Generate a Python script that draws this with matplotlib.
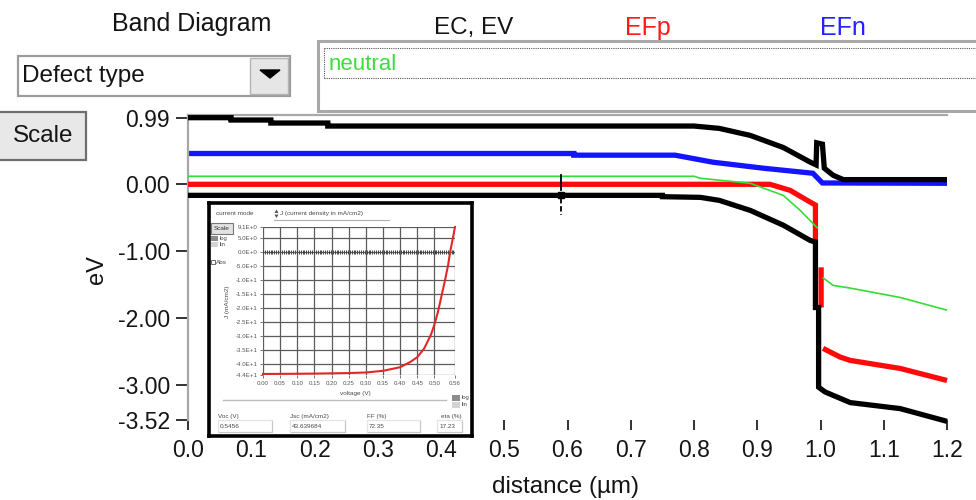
import numpy as np
import matplotlib
matplotlib.use("Agg")
import matplotlib.pyplot as plt
from matplotlib.patches import Rectangle, Polygon

plt.rcParams['font.family'] = ['Liberation Sans', 'DejaVu Sans']
plt.rcParams['axes.unicode_minus'] = False

# ---------------- data ----------------
# Conduction band EC
ec_x = [0.0, 0.068, 0.068, 0.131, 0.131, 0.221, 0.221, 0.80, 0.84, 0.889, 0.941, 0.984, 0.993, 0.994, 1.003, 1.006, 1.02, 1.036, 1.2]
ec_y = [0.995, 0.995, 0.96, 0.96, 0.915, 0.915, 0.87, 0.87, 0.835, 0.73, 0.55, 0.33, 0.29, 0.62, 0.60, 0.24, 0.135, 0.07, 0.07]
# Valence band EV
ev_x = [0.0, 0.75, 0.75, 0.81, 0.84, 0.889, 0.941, 0.984, 0.992, 0.992, 0.997, 0.997, 1.007, 1.047, 1.126, 1.2]
ev_y = [-0.165, -0.165, -0.185, -0.195, -0.24, -0.39, -0.61, -0.84, -0.86, -1.84, -1.84, -3.03, -3.10, -3.26, -3.35, -3.54]
# Hole quasi-Fermi level EFp
efp_x = [0.0, 0.92, 0.952, 0.979, 0.992, 0.992, np.nan, 1.001, 1.001, np.nan, 1.004, 1.031, 1.047, 1.126, 1.2]
efp_y = [0.0, 0.0, -0.09, -0.24, -0.31, -0.84, np.nan, -1.24, -1.84, np.nan, -2.45, -2.58, -2.63, -2.75, -2.93]
# Electron quasi-Fermi level EFn
efn_x = [0.0, 0.61, 0.61, 0.77, 0.83, 0.91, 0.988, 1.003, 1.2]
efn_y = [0.46, 0.46, 0.435, 0.435, 0.33, 0.24, 0.165, 0.02, 0.015]
# neutral defect level
neu_x = [0.0, 0.80, 0.81, 0.889, 0.941, 0.968, 0.996, np.nan, 1.003, 1.02, 1.047, 1.126, 1.2]
neu_y = [0.12, 0.12, 0.09, 0.015, -0.165, -0.39, -0.66, np.nan, -1.39, -1.51, -1.55, -1.69, -1.88]
cursor_x = 0.59

x_ticks = [0.0, 0.1, 0.2, 0.3, 0.4, 0.5, 0.6, 0.7, 0.8, 0.9, 1.0, 1.1, 1.2]
x_tick_labels = ['0.0', '0.1', '0.2', '0.3', '0.4', '0.5', '0.6', '0.7', '0.8', '0.9', '1.0', '1.1', '1.2']
y_ticks = [0.99, 0.0, -1.0, -2.0, -3.0, -3.52]
y_tick_labels = ['0.99', '0.00', '-1.00', '-2.00', '-3.00', '-3.52']

# J-V inset
jv_v = [0.0, 0.05, 0.10, 0.15, 0.20, 0.25, 0.30, 0.35, 0.40, 0.43, 0.45, 0.47, 0.49, 0.50, 0.51, 0.52, 0.53, 0.54, 0.5456, 0.55, 0.56]
jv_j = [-43.64, -43.6, -43.55, -43.5, -43.4, -43.3, -43.1, -42.5, -41.2, -39.3, -37.6, -34.5, -29.5, -25.9, -21.5, -16.0, -10.5, -4.5, 0.0, 2.7, 9.1]
jv_xticks = [0.0, 0.05, 0.10, 0.15, 0.20, 0.25, 0.30, 0.35, 0.40, 0.45, 0.50, 0.56]
jv_xlabels = ['0.00', '0.05', '0.10', '0.15', '0.20', '0.25', '0.30', '0.35', '0.40', '0.45', '0.50', '0.56']
jv_yticks = [9.1, 5, 0, -5, -10, -15, -20, -25, -30, -35, -40, -44]
jv_ylabels = ['9.1E+0', '5.0E+0', '0.0E+0', '-5.0E+0', '-1.0E+1', '-1.5E+1', '-2.0E+1', '-2.5E+1',
              '-3.0E+1', '-3.5E+1', '-4.0E+1', '-4.4E+1']
pv_names = ['Voc (V)', 'Jsc (mA/cm2)', 'FF (%)', 'eta (%)']
pv_values = ['0.5456', '43.639684', '72.35', '17.23']

# ---------------- figure ----------------
W, H = 976, 500
def fx(px): return px / W
def fy(py): return 1 - py / H

fig = plt.figure(figsize=(9.76, 5.0), dpi=100)
fig.patch.set_facecolor('white')

ui = fig.add_axes([0, 0, 1, 1], zorder=0)
ui.set_xlim(0, W); ui.set_ylim(H, 0); ui.axis('off')

txt = '#141414'
ui.text(192, 24, 'Band Diagram', ha='center', va='center', fontsize=18, color=txt)
ui.text(474, 28, 'EC, EV', ha='center', va='center', fontsize=17.5, color=txt)
ui.text(648, 28, 'EFp', ha='center', va='center', fontsize=18, color='#ff1a1a')
ui.text(843, 28, 'EFn', ha='center', va='center', fontsize=18, color='#2323ff')

# combobox
ui.add_patch(Rectangle((18, 56), 272, 40, facecolor='white', edgecolor='#9c9c9c', lw=1.6))
ui.add_patch(Rectangle((250, 58), 38, 36, facecolor='#e6e6e6', edgecolor='#b4b4b4', lw=1.0))
ui.add_patch(Polygon([(260, 70), (280, 70), (270, 78)], closed=True, facecolor='black', edgecolor='black'))
ui.text(22, 76, 'Defect type', ha='left', va='center', fontsize=17.5, color=txt)

# scale button
ui.add_patch(Rectangle((-3, 112), 89, 48, facecolor='#e8e8e8', edgecolor='#6e6e6e', lw=1.6))
ui.text(43, 136, 'Scale', ha='center', va='center', fontsize=17.5, color=txt)

# legend panel
ui.add_patch(Rectangle((318, 41), 662, 70, facecolor='white', edgecolor='#a8a8a8', lw=2.2))
for yy in (48, 78):
    ui.plot([324, 976], [yy, yy], color='#555555', lw=0.8, ls=(0, (1, 1)))
ui.plot([324, 324], [48, 78], color='#555555', lw=0.8, ls=(0, (1, 1)))
ui.text(329, 64, 'neutral', ha='left', va='center', fontsize=16, color='#3ddc3d')

ui.text(97, 270, 'eV', ha='center', va='center', rotation=90, fontsize=17, color=txt)
ui.text(565, 487, 'distance (µm)', ha='center', va='center', fontsize=17.5, color=txt)

# ---------------- main band diagram ----------------
ax = fig.add_axes([fx(188), fy(420), (947 - 188) / W, (420 - 115) / H], zorder=1)
ax.set_facecolor('none')
ax.set_xlim(0, 1.2)
ax.set_ylim(-3.52, 1.035)
for s in ('right', 'bottom'):
    ax.spines[s].set_visible(False)
for s in ('left', 'top'):
    ax.spines[s].set_color('#a8a8a8')
    ax.spines[s].set_linewidth(1.6)

lw_thick = 3.8
kw = dict(solid_capstyle='butt', solid_joinstyle='miter', clip_on=False)
ax.plot(efn_x, efn_y, color='#1414ff', lw=lw_thick, zorder=2, **kw)
ax.plot(efp_x, efp_y, color='#ff0a0a', lw=lw_thick, zorder=3, **kw)
ax.plot(neu_x, neu_y, color='#33dd33', lw=1.2, zorder=4, **kw)
ax.plot(ec_x, ec_y, color='black', lw=lw_thick, zorder=5, **kw)
ax.plot(ev_x, ev_y, color='black', lw=lw_thick, zorder=5, **kw)

# cursor
ax.plot([cursor_x, cursor_x], [0.135, -0.08], color='black', lw=1.3, zorder=6)
ax.plot([cursor_x, cursor_x], [-0.2, -0.46], color='black', lw=1.3, ls=(0, (3, 1.5)), zorder=6)
ax.plot([cursor_x], [-0.165], marker='s', ms=5, color='black', zorder=6)

ax.set_xticks(x_ticks)
ax.set_xticklabels(x_tick_labels)
ax.set_yticks(y_ticks)
ax.set_yticklabels(y_tick_labels)
ax.tick_params(axis='x', direction='out', length=7, width=1.3, color='#222222', pad=7,
               labelsize=16.5, labelcolor=txt)
ax.tick_params(axis='y', direction='out', length=9, width=1.3, color='#222222', pad=4,
               labelsize=16.5, labelcolor=txt)

# ---------------- J-V inset ----------------
ib = fig.add_axes([fx(209), fy(436), (472 - 209) / W, (436 - 203) / H], zorder=3)
ib.set_xlim(209, 472); ib.set_ylim(436, 203)
ib.set_xticks([]); ib.set_yticks([])
ib.set_facecolor('white')
for s in ib.spines.values():
    s.set_color('black'); s.set_linewidth(2.6)

small = 4.6
gtxt = '#4a4a4a'
ib.text(235, 214, 'current mode', ha='center', va='center', fontsize=small, color=gtxt)
ib.add_patch(Polygon([(274.5, 213), (278.5, 213), (276.5, 209.5)], closed=True, facecolor='#555555'))
ib.add_patch(Polygon([(274.5, 214.5), (278.5, 214.5), (276.5, 218)], closed=True, facecolor='#555555'))
ib.text(280, 214, 'J (current density in mA/cm2)', ha='left', va='center', fontsize=small, color=gtxt)
ib.plot([274, 389], [220.5, 220.5], color='#b0b0b0', lw=0.8)
ib.add_patch(Rectangle((211, 223), 22, 11, facecolor='#e2e2e2', edgecolor='#777777', lw=0.8))
ib.text(222, 228.5, 'Scale', ha='center', va='center', fontsize=small, color='#333333')
ib.add_patch(Rectangle((211, 236), 7, 5, facecolor='#8c8c8c', edgecolor='none'))
ib.add_patch(Rectangle((211, 242), 7, 5, facecolor='#d4d4d4', edgecolor='none'))
ib.text(220, 238.5, 'log', ha='left', va='center', fontsize=4.2, color=gtxt)
ib.text(220, 244.5, 'lin', ha='left', va='center', fontsize=4.2, color=gtxt)
ib.add_patch(Rectangle((210.5, 260), 4, 4, facecolor='white', edgecolor='#555555', lw=0.6))
ib.text(216, 263, 'Abs', ha='left', va='center', fontsize=small, color=gtxt)
ib.text(227, 302, 'J (mA/cm2)', ha='center', va='center', rotation=90, fontsize=small, color=gtxt)
ib.text(355, 393, 'voltage (V)', ha='center', va='center', fontsize=small, color=gtxt)
ib.plot([223, 446], [400, 400], color='#bdbdbd', lw=1.0)
ib.add_patch(Rectangle((452, 395), 8, 6, facecolor='#8c8c8c', edgecolor='none'))
ib.add_patch(Rectangle((452, 402), 8, 6, facecolor='#d4d4d4', edgecolor='none'))
ib.text(462, 398, 'log', ha='left', va='center', fontsize=4.2, color=gtxt)
ib.text(462, 405, 'lin', ha='left', va='center', fontsize=4.2, color=gtxt)

box_x = [(218, 272), (290, 345), (367, 420), (437, 462)]
for i, (name, val) in enumerate(zip(pv_names, pv_values)):
    x0, x1 = box_x[i]
    ib.plot([x0, x1, x1], [432, 432, 420], color='#c8c8c8', lw=0.9)
    ib.plot([x0, x0, x1], [432, 420, 420], color='#e4e4e4', lw=0.9)
    ib.text(x0 + 2, 426.5, val, ha='left', va='center', fontsize=small, color=gtxt)
    if i < 3:
        ib.text(x0, 416.5, name, ha='left', va='center', fontsize=small, color=gtxt)
    else:
        ib.text(x1, 416.5, name, ha='right', va='center', fontsize=small, color=gtxt)

jv = fig.add_axes([fx(263), fy(375), (455 - 263) / W, (375 - 227) / H], zorder=4)
jv.set_facecolor('white')
jv.set_xlim(0, 0.56)
jv.set_ylim(-44, 9.1)
for s in jv.spines.values():
    s.set_visible(False)
jv.set_xticks(jv_xticks)
jv.set_xticklabels(jv_xlabels)
jv.set_yticks(jv_yticks)
jv.set_yticklabels(jv_ylabels)
jv.grid(True, color='#5c5c5c', lw=0.9)
jv.tick_params(axis='both', labelsize=4.4, labelcolor='#555555', color='#777777', length=2.5, width=0.7, pad=1.5)
jv.set_axisbelow(True)
zero_ticks = np.arange(0.0, 0.56, 0.0055)
jv.plot(zero_ticks, np.zeros_like(zero_ticks), ls='none', marker='|', ms=3.2, mew=0.7, color='#444444', zorder=2)
jv.plot(jv_v, jv_j, color='#e02828', lw=1.5, zorder=3, clip_on=False)

fig.savefig('out.png', dpi=100, facecolor='white')
